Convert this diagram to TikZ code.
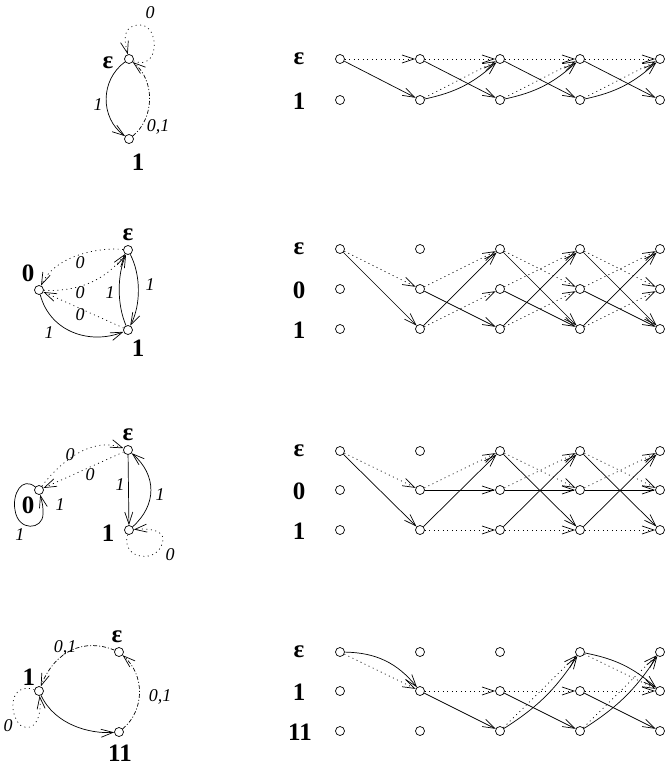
\documentclass[tikz,border=0pt]{standalone}
\usepackage{fontspec}
\setmainfont{Liberation Serif}
\usetikzlibrary{arrows.meta}

\tikzset{
  >={Straight Barb[length=12pt,width=8pt]},
  st/.style={circle,draw,inner sep=0pt,minimum size=9pt},
  edz/.style={dash pattern=on 1pt off 3.5pt},
  edzo/.style={dash pattern=on 4pt off 2pt on 1pt off 2pt},
  lab/.style={font=\fontsize{18}{20}\selectfont\itshape,inner sep=0pt},
  big/.style={font=\fontsize{25}{27}\selectfont\bfseries,inner sep=0pt},
}

\begin{document}
\begin{tikzpicture}[x=1pt,y=-1pt,line width=0.7pt]
\useasboundingbox (0,0) rectangle (665,769);

% first automaton
\node[st] (ge) at (129,59) {};
\node[st] (go) at (129,139) {};
\node[big] at (108,63) {ε};
\node[big] at (138,162) {1};
\draw[edz,->] (ge) .. controls (160,72) and (160,25) .. (140,25) .. controls (122,25) and (124,40) .. (ge);
\draw[->] (ge) .. controls (100,80) and (100,118) .. (go);
\draw[edzo,->] (go) .. controls (155,118) and (155,80) .. (ge);
\node[lab] at (150,13) {0};
\node[lab] at (98,105) {1};
\node[lab] at (158,127) {0,1};

% second automaton
\node[st] (he) at (128,250) {};
\node[st] (hz) at (39,290) {};
\node[st] (ho) at (128,330) {};
\node[big] at (128,235) {ε};
\node[big] at (28,273) {0};
\node[big] at (138,348) {1};
\draw[edz,->] (he) .. controls (100,247) and (55,255) .. (hz);
\draw[edz,->] (hz) .. controls (75,292) and (105,282) .. (he);
\draw[edz,->] (ho) -- (hz);
\draw[->] (hz) .. controls (50,332) and (90,345) .. (ho);
\draw[->] (ho) .. controls (117,305) and (117,275) .. (he);
\draw[->] (he) .. controls (141,275) and (141,305) .. (ho);
\node[lab] at (80,263) {0};
\node[lab] at (80,293) {0};
\node[lab] at (80,315) {0};
\node[lab] at (110,293) {1};
\node[lab] at (150,285) {1};
\node[lab] at (49,333) {1};

% third automaton
\node[st] (ke) at (128,450) {};
\node[st] (kz) at (39,490) {};
\node[st] (ko) at (129,530) {};
\node[big] at (128,435) {ε};
\node[big] at (28,505) {0};
\node[big] at (108,533) {1};
\draw[edz,->] (kz) .. controls (60,462) and (92,436) .. (ke);
\draw[edz,->] (ke) -- (kz);
\draw[->] (ke) -- (ko);
\draw[->] (ko) .. controls (157,505) and (157,475) .. (ke);
\draw[edz,->] (ko) .. controls (120,560) and (160,565) .. (163,540) .. controls (164,530) and (148,528) .. (ko);
\draw[->] (kz) .. controls (22,476) and (12,494) .. (15,510) .. controls (18,532) and (43,530) .. (43,514) .. controls (43,506) .. (kz);
\node[lab] at (70,455) {0};
\node[lab] at (90,475) {0};
\node[lab] at (120,485) {1};
\node[lab] at (160,495) {1};
\node[lab] at (60,505) {1};
\node[lab] at (20,535) {1};
\node[lab] at (170,555) {0};

% fourth automaton
\node[st] (fe) at (119,652) {};
\node[st] (fo) at (39,691) {};
\node[st] (ft) at (119,732) {};
\node[big] at (117,637) {ε};
\node[big] at (29,677) {1};
\node[big] at (120,753) {11};
\draw[edzo,->] (fe) .. controls (85,638) and (55,650) .. (fo);
\draw[edzo,->] (ft) .. controls (145,710) and (145,675) .. (fe);
\draw[->] (fo) .. controls (55,725) and (90,734) .. (ft);
\draw[edz,->] (fo) .. controls (10,682) and (8,712) .. (20,725) .. controls (35,734) and (42,716) .. (fo);
\node[lab] at (65,648) {0,1};
\node[lab] at (160,697) {0,1};
\node[lab] at (8,726) {0};

% trellis nodes
\foreach \c [count=\i from 0] in {340,420,500,580,660} {
  \node[st] (Ae-\i) at (\c,59) {};
  \node[st] (Ao-\i) at (\c,100) {};
  \node[st] (Be-\i) at (\c,249) {};
  \node[st] (Bz-\i) at (\c,289) {};
  \node[st] (Bo-\i) at (\c,329) {};
  \node[st] (Ce-\i) at (\c,451) {};
  \node[st] (Cz-\i) at (\c,490) {};
  \node[st] (Co-\i) at (\c,530) {};
  \node[st] (De-\i) at (\c,652) {};
  \node[st] (Do-\i) at (\c,691) {};
  \node[st] (Dt-\i) at (\c,731) {};
}
\node[big] at (299,59) {ε};
\node[big] at (299,101) {1};
\node[big] at (299,249) {ε};
\node[big] at (299,290) {0};
\node[big] at (299,330) {1};
\node[big] at (299,451) {ε};
\node[big] at (299,491) {0};
\node[big] at (299,531) {1};
\node[big] at (299,652) {ε};
\node[big] at (299,692) {1};
\node[big] at (300,732) {11};

% first trellis
\draw[edz,->] (Ae-0) -- (Ae-1);
\draw[->] (Ae-0) -- (Ao-1);
\foreach \i in {1,2,3} {
  \pgfmathtruncatemacro\j{\i+1}
  \draw[edz,->] (Ae-\i) -- (Ae-\j);
  \draw[->] (Ae-\i) -- (Ao-\j);
  \draw[edz,->] (Ao-\i) -- (Ae-\j);
  \draw[->] (Ao-\i) to[bend right=15] (Ae-\j);
}

% second trellis
\draw[edz,->] (Be-0) -- (Bz-1);
\draw[->] (Be-0) -- (Bo-1);
\foreach \i in {1,2,3} {
  \pgfmathtruncatemacro\j{\i+1}
  \ifnum\i>1
    \draw[edz,->] (Be-\i) -- (Bz-\j);
    \draw[->] (Be-\i) -- (Bo-\j);
  \fi
  \draw[edz,->] (Bz-\i) -- (Be-\j);
  \draw[->] (Bz-\i) -- (Bo-\j);
  \draw[->] (Bo-\i) -- (Be-\j);
  \draw[edz,->] (Bo-\i) -- (Bz-\j);
}

% third trellis
\draw[edz,->] (Ce-0) -- (Cz-1);
\draw[->] (Ce-0) -- (Co-1);
\foreach \i in {1,2,3} {
  \pgfmathtruncatemacro\j{\i+1}
  \ifnum\i>1
    \draw[edz,->] (Ce-\i) -- (Cz-\j);
    \draw[->] (Ce-\i) -- (Co-\j);
  \fi
  \draw[edz,->] (Cz-\i) -- (Ce-\j);
  \draw[->] (Cz-\i) -- (Cz-\j);
  \draw[->] (Co-\i) -- (Ce-\j);
  \draw[edz,->] (Co-\i) -- (Co-\j);
}

% fourth trellis
\draw[edz,->] (De-0) -- (Do-1);
\draw[->] (De-0) to[bend left=25] (Do-1);
\foreach \i in {1,2,3} {
  \pgfmathtruncatemacro\j{\i+1}
  \draw[edz,->] (Do-\i) -- (Do-\j);
  \draw[->] (Do-\i) -- (Dt-\j);
}
\foreach \i in {2,3} {
  \pgfmathtruncatemacro\j{\i+1}
  \draw[edz,->] (Dt-\i) -- (De-\j);
  \draw[->] (Dt-\i) to[bend right=12] (De-\j);
}
\draw[edz,->] (De-3) -- (Do-4);
\draw[->] (De-3) to[bend left=15] (Do-4);
\end{tikzpicture}
\end{document}
